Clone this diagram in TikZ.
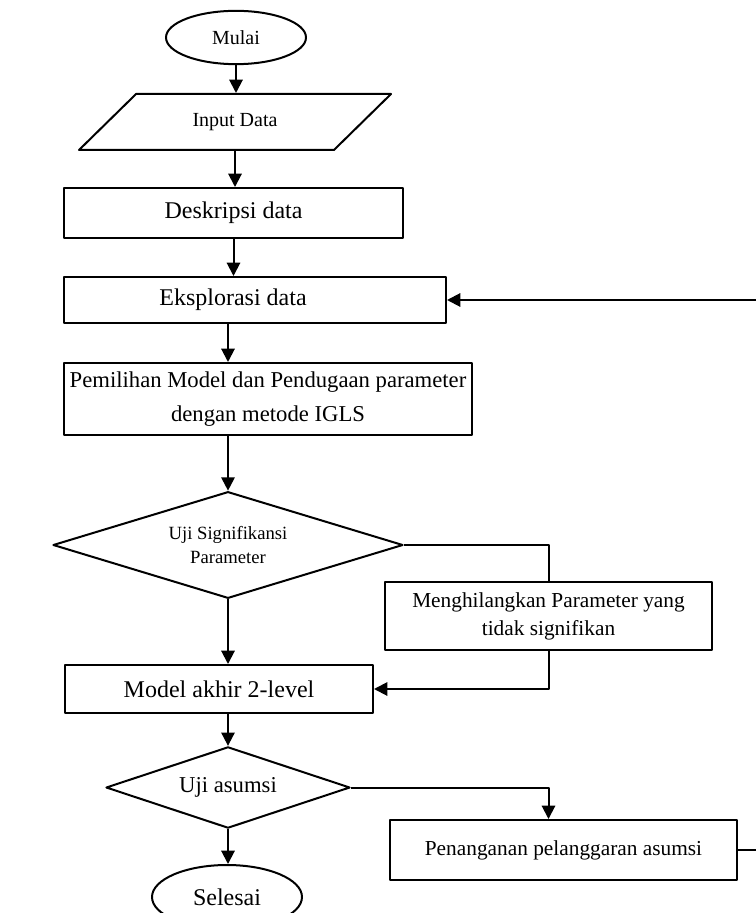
\documentclass[tikz,border=0pt]{standalone}
\usepackage{fontspec}
\setmainfont{Liberation Serif}
\usetikzlibrary{arrows.meta,shapes.geometric}

\begin{document}
\begin{tikzpicture}[line join=round,>={Triangle[length=10pt,width=10pt]},x=0.75pt,y=-0.75pt,line width=1.5pt,
  proses/.style={draw,rectangle,inner sep=0pt,align=center},
  terminal/.style={draw,ellipse,inner sep=0pt},
  keputusan/.style={draw,diamond,inner sep=0pt,align=center}]
\useasboundingbox (0,0) rectangle (756,913);
\clip (0,0) rectangle (756,913);
% simbol
\node[terminal,minimum width=105pt,minimum height=40pt,font=\fontsize{15}{18}\selectfont] (mulai) at (236,37.5) {Mulai};
\node[draw,trapezium,trapezium left angle=35.3,trapezium right angle=144.7,trapezium stretches=true,minimum width=235.5pt,minimum height=42pt,inner sep=0pt,font=\fontsize{15}{18}\selectfont] (input) at (235,122) {Input Data};
\node[proses,minimum width=254pt,minimum height=37.5pt,font=\fontsize{18}{22}\selectfont] (deskripsi) at (233.5,213) {Deskripsi data};
\node[proses,minimum width=286.5pt,minimum height=34.5pt,font=\fontsize{18}{22}\selectfont] (eksplorasi) at (255,300) {Eksplorasi data\hspace{33pt}};
\node[proses,minimum width=306pt,minimum height=54pt,font=\fontsize{17}{26}\selectfont] (pemilihan) at (268,399) {Pemilihan Model dan Pendugaan parameter\\dengan metode IGLS};
\node[keputusan,aspect=3.28,minimum width=262.5pt,minimum height=80pt,font=\fontsize{14}{18}\selectfont] (ujisig) at (228,545) {Uji Signifikansi\\Parameter};
\node[proses,minimum width=245pt,minimum height=51pt,font=\fontsize{16}{21}\selectfont] (menghilangkan) at (548.5,616) {Menghilangkan Parameter yang\\tidak signifikan};
\node[proses,minimum width=231pt,minimum height=36pt,font=\fontsize{18}{22}\selectfont] (model) at (219,689) {Model akhir 2-level};
\node[keputusan,aspect=3,minimum width=183pt,minimum height=61pt,font=\fontsize{17}{20}\selectfont] (ujiasumsi) at (228,787.5) {Uji asumsi};
\node[proses,minimum width=260pt,minimum height=45pt,font=\fontsize{16}{20}\selectfont] (penanganan) at (563.5,850) {Penanganan pelanggaran asumsi};
\node[terminal,minimum width=112.5pt,minimum height=48pt,font=\fontsize{18}{22}\selectfont] (selesai) at (227,897) {Selesai};
% alur
\draw [->] (mulai.south) -- (mulai.south |- input.north);
\draw [->] (input.south) -- (input.south |- deskripsi.north);
\draw [->] (deskripsi.south) -- (deskripsi.south |- eksplorasi.north);
\draw [->] (ujisig.north |- eksplorasi.south) -- (ujisig.north |- pemilihan.north);
\draw [->] (ujisig.north |- pemilihan.south) -- (ujisig.north);
\draw [->] (ujisig.south) -- (ujisig.south |- model.north);
\draw (ujisig.east) -| (menghilangkan.north);
\draw [->] (menghilangkan.south) |- (model.east);
\draw [->] (ujiasumsi.north |- model.south) -- (ujiasumsi.north);
\draw [->] (ujiasumsi.south) -- (ujiasumsi.south |- selesai.north);
\draw [->] (ujiasumsi.east) -| (menghilangkan.south |- penanganan.north);
\draw [->] (penanganan.east) -- ++(40,0) |- (eksplorasi.east);
\end{tikzpicture}
\end{document}
